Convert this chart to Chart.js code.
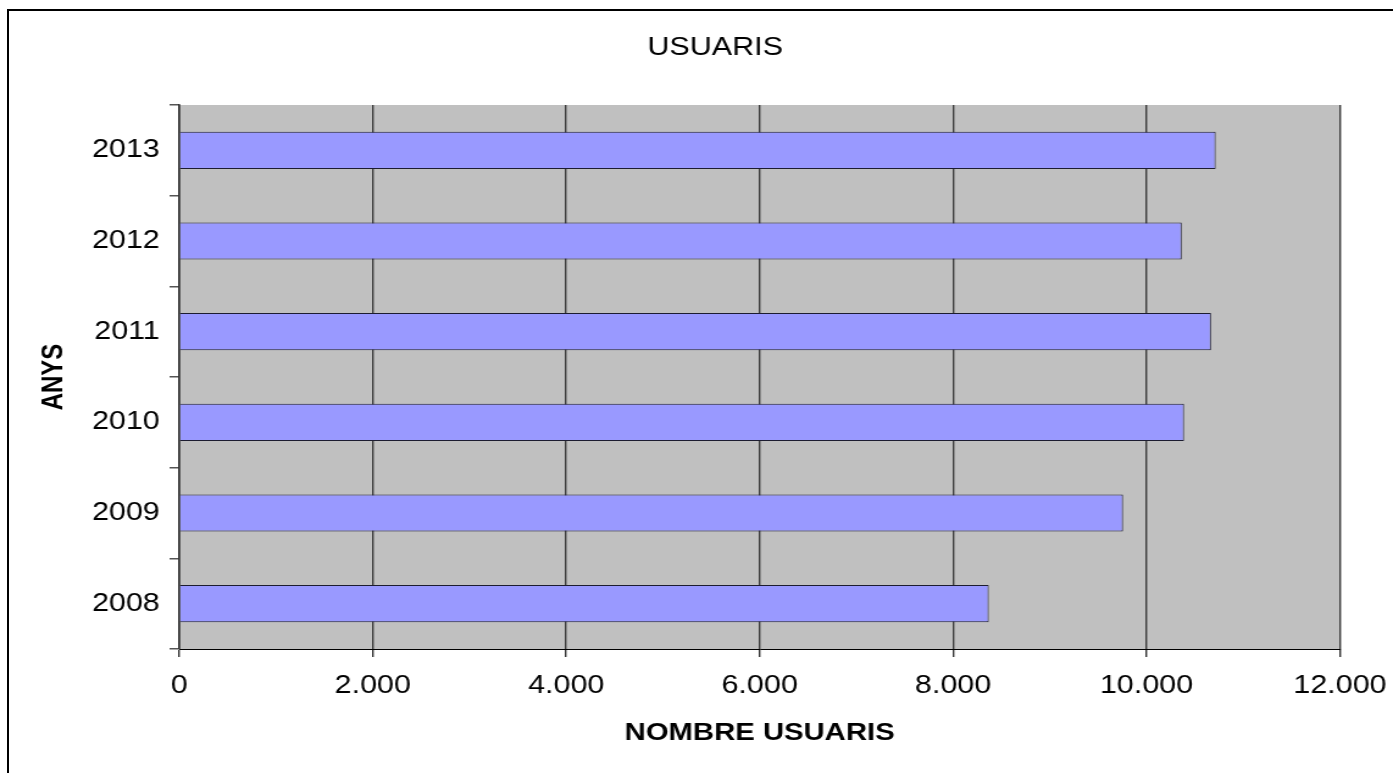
<!DOCTYPE html>
<html><head><meta charset="utf-8">
<script src="https://cdn.jsdelivr.net/npm/chart.js@4.4.1/dist/chart.umd.min.js"></script>
<style>
html,body{margin:0;padding:0;background:#fff;overflow:hidden}
#frame{position:absolute;left:7px;top:9px;width:1400px;height:780px;border-left:2px solid #000;border-top:2px solid #000;box-sizing:border-box}
#wrap{position:absolute;left:0;top:0;width:1142px;height:773px;transform:scaleX(1.21979);transform-origin:0 0}
</style></head><body>
<div id="frame"></div>
<div id="wrap"><canvas id="c" width="1142" height="773" style="display:block;width:1142px;height:773px"></canvas></div>
<script>
const categories = ['2013', '2012', '2011', '2010', '2009', '2008'];
const users = [10715, 10364, 10667, 10388, 9757, 8369];
const xTickLabels = ['0', '2.000', '4.000', '6.000', '8.000', '10.000', '12.000'];
const chartTitle = 'USUARIS';
const xTitle = 'NOMBRE USUARIS';
const yTitle = 'ANYS';

const FONT = "'Liberation Sans', Arial, Helvetica, sans-serif";

const plotBg = {
  id: 'plotBg',
  beforeDraw(chart) {
    const {ctx, chartArea: a} = chart;
    ctx.save();
    ctx.fillStyle = '#c0c0c0';
    ctx.fillRect(a.left, a.top, a.right - a.left, a.bottom - a.top);
    ctx.restore();
  }
};

// shift the chart title a little to the right, as in the original
const titleShift = {
  id: 'titleShift',
  afterLayout(chart) {
    if (chart.titleBlock) { chart.titleBlock.left = 74; }
  }
};

new Chart(document.getElementById('c'), {
  type: 'bar',
  data: {
    labels: categories,
    datasets: [{
      data: users,
      backgroundColor: '#9999ff',
      borderColor: '#1c1c30',
      borderWidth: 1,
      barPercentage: 0.41,
      categoryPercentage: 1
    }]
  },
  options: {
    indexAxis: 'y',
    responsive: false,
    animation: false,
    layout: {padding: {left: 0, right: 43.5, top: 0, bottom: 0}},
    plugins: {
      legend: {display: false},
      tooltip: {enabled: false},
      title: {
        display: true, text: chartTitle, color: '#000',
        font: {family: FONT, size: 25, weight: 'normal', lineHeight: 1.2},
        padding: {top: 33, bottom: 42}
      }
    },
    scales: {
      x: {
        type: 'linear', min: 0, max: 12000,
        ticks: {stepSize: 2000, color: '#000', font: {family: FONT, size: 25, lineHeight: 1.2}, padding: 14,
          callback: (v, i) => xTickLabels[i]},
        grid: {color: '#3c3c3c', lineWidth: 1.4, drawTicks: true, tickLength: 8, tickColor: '#333'},
        border: {display: true, color: '#000', width: 1},
        title: {display: true, text: xTitle, color: '#000',
          font: {family: FONT, size: 24, weight: 'bold', lineHeight: 1.2}, padding: {top: 0, bottom: 25}},
        afterFit: (s) => { s.height = 124; s.paddingRight = 0; }
      },
      y: {
        type: 'category',
        offset: true,
        grid: {offset: true, drawOnChartArea: false, drawTicks: true, tickLength: 8, tickColor: '#555', lineWidth: 1.5},
        border: {display: true, color: '#333', width: 1.6},
        ticks: {color: '#000', font: {family: FONT, size: 25, lineHeight: 1.2}, padding: 8},
        title: {display: true, text: yTitle, color: '#000',
          font: {family: FONT, size: 24, weight: 'bold', lineHeight: 1.2}, padding: {top: 30}},
        afterFit: (s) => { s.width = 147; }
      }
    }
  },
  plugins: [plotBg, titleShift]
});
</script>
</body></html>
